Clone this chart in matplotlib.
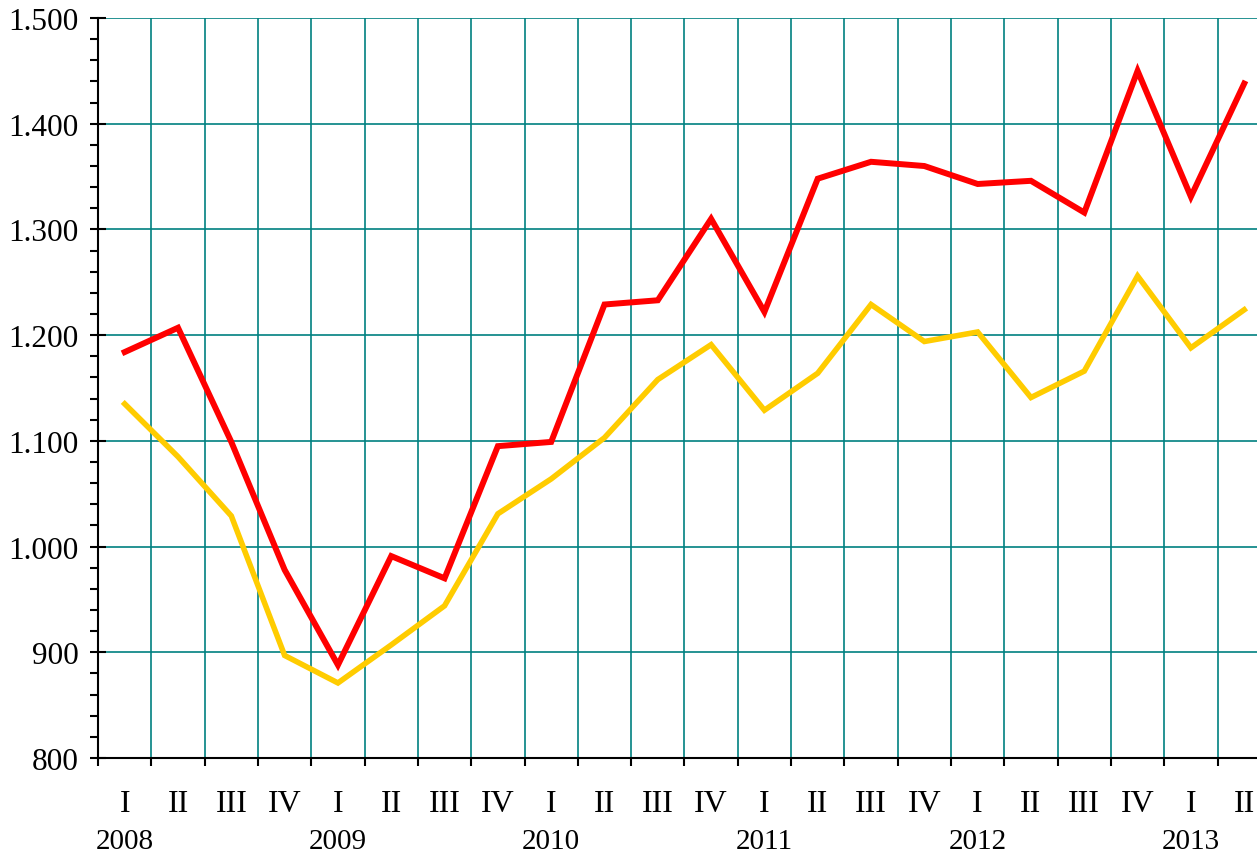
import matplotlib.pyplot as plt
import numpy as np
from matplotlib.ticker import FuncFormatter, MultipleLocator

quarters = ['I', 'II', 'III', 'IV'] * 5 + ['I', 'II']
years = ['2008', '2009', '2010', '2011', '2012', '2013']

red_vals = [1184, 1207, 1099, 978, 888, 991, 970, 1095, 1099, 1229, 1233,
            1310, 1222, 1348, 1364, 1360, 1343, 1346, 1316, 1450, 1331, 1438]
yellow_vals = [1135, 1085, 1029, 897, 871, 907, 944, 1031, 1064, 1103, 1158,
               1191, 1129, 1164, 1229, 1194, 1203, 1141, 1166, 1256, 1188, 1224]

plt.rcParams['font.family'] = ['Liberation Serif', 'DejaVu Serif']

fig = plt.figure(figsize=(12.57, 8.53), dpi=100)
ax = fig.add_axes([0.078, 0.1102, 0.922, 0.8675])

x = np.arange(len(red_vals)) + 0.5
teal = '#008080'

for v in range(900, 1501, 100):
    ax.axhline(v, color=teal, lw=1.2, zorder=1)
for i in range(1, len(red_vals)):
    ax.axvline(i, color=teal, lw=1.2, zorder=1)

ax.plot(x, yellow_vals, color='#FFCC00', lw=4.0, zorder=3, solid_joinstyle='miter')
ax.plot(x, red_vals, color='#FF0000', lw=4.3, zorder=4, solid_joinstyle='miter')

ax.set_xlim(0, 21.74)
ax.set_ylim(800, 1500)

for s in ['top', 'right']:
    ax.spines[s].set_visible(False)
for s in ['left', 'bottom']:
    ax.spines[s].set_linewidth(1.5)
    ax.spines[s].set_zorder(5)

ax.yaxis.set_major_locator(MultipleLocator(100))
ax.yaxis.set_minor_locator(MultipleLocator(20))
ax.yaxis.set_major_formatter(FuncFormatter(lambda v, p: f'{int(v):,}'.replace(',', '.')))
ax.tick_params(axis='y', which='major', direction='inout', length=12, width=1.5,
               labelsize=22.5, pad=8)
ax.tick_params(axis='y', which='minor', direction='out', length=6, width=1.5)

ax.set_xticks(np.arange(0, len(red_vals)))
ax.set_xticklabels([])
ax.tick_params(axis='x', which='major', direction='out', length=6, width=1.5)
ax.set_xticks(x, minor=True)
ax.set_xticklabels(quarters, minor=True)
ax.tick_params(axis='x', which='minor', length=0, labelsize=23, pad=22)

trans = ax.get_xaxis_transform()
for k, yr in enumerate(years):
    ax.text(k * 4 + 0.5, -0.112, yr, transform=trans, ha='center', va='center',
            fontsize=21)

fig.savefig('out.png', dpi=100)
